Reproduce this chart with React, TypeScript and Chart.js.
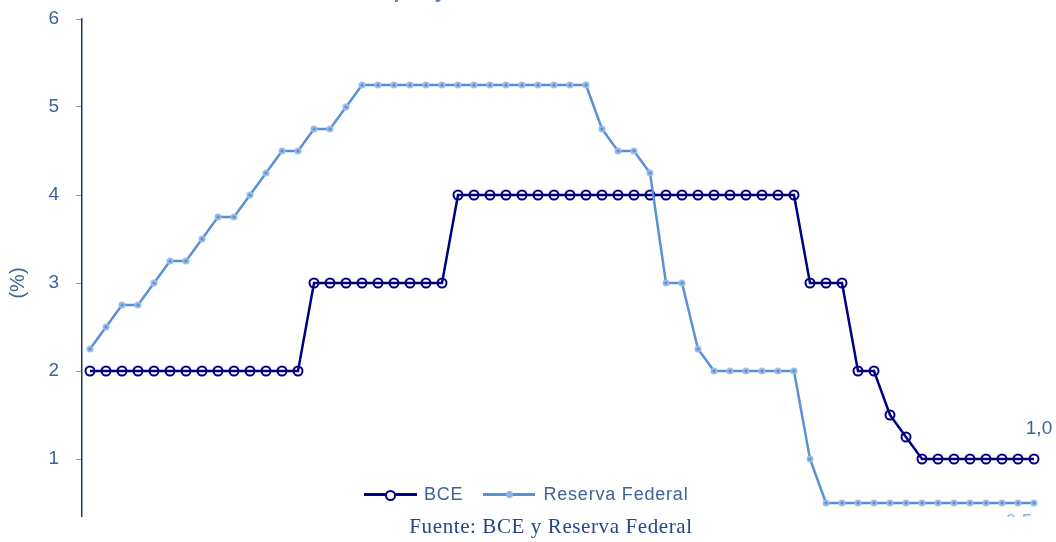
import React, { useEffect, useRef } from "react";
import { Chart, registerables } from "chart.js";

Chart.register(...registerables);

// Hidden period index (the x axis is cropped out of the reference)
const periods: string[] = Array.from({ length: 60 }, (_, i) => String(i + 1));

const bceRates: number[] = [
  2, 2, 2, 2, 2, 2, 2, 2, 2, 2, 2, 2, 2, 2,
  3, 3, 3, 3, 3, 3, 3, 3, 3,
  4, 4, 4, 4, 4, 4, 4, 4, 4, 4, 4, 4, 4, 4, 4, 4, 4, 4, 4, 4, 4, 4,
  3, 3, 3,
  2, 2,
  1.5, 1.25,
  1, 1, 1, 1, 1, 1, 1, 1,
];

const fedRates: number[] = [
  2.25, 2.5, 2.75, 2.75, 3.0, 3.25, 3.25, 3.5, 3.75, 3.75, 4.0, 4.25, 4.5, 4.5, 4.75, 4.75, 5.0,
  5.25, 5.25, 5.25, 5.25, 5.25, 5.25, 5.25, 5.25, 5.25, 5.25, 5.25, 5.25, 5.25, 5.25, 5.25,
  4.75, 4.5, 4.5, 4.25, 3.0, 3.0, 2.25,
  2.0, 2.0, 2.0, 2.0, 2.0, 2.0,
  1.0,
  0.5, 0.5, 0.5, 0.5, 0.5, 0.5, 0.5, 0.5, 0.5, 0.5, 0.5, 0.5, 0.5, 0.5,
];

const yTicks: number[] = [0, 1, 2, 3, 4, 5, 6];

const seriesNames = ["BCE", "Reserva Federal"];
const titleText = "Banco Central Europeo y Reserva Federal de los Estados Unidos";
const sourceText = "Fuente: BCE y Reserva Federal";

const NAVY = "#000080";
const FED = "#5A91D6";
const TEXT = "#3F6394";

const fmt = (v: number) => v.toFixed(1).replace(".", ",");

const endLabels = {
  id: "endLabels",
  afterDatasetsDraw(chart: any) {
    const ctx = chart.ctx;
    ctx.save();
    ctx.font = "19px 'Liberation Sans', Arial, sans-serif";
    ctx.textAlign = "center";
    ctx.textBaseline = "middle";
    const m0 = chart.getDatasetMeta(0);
    const p0 = m0.data[m0.data.length - 1];
    ctx.fillStyle = TEXT;
    ctx.fillText(fmt(bceRates[bceRates.length - 1]), p0.x + 5, p0.y - 30);
    const m1 = chart.getDatasetMeta(1);
    const p1 = m1.data[m1.data.length - 1];
    ctx.fillStyle = "#8DB4E2";
    ctx.fillText(fmt(fedRates[fedRates.length - 1]), p1.x - 15, p1.y + 19);
    ctx.restore();
  },
};

export default function App() {
  const ref = useRef<HTMLCanvasElement | null>(null);

  useEffect(() => {
    if (!ref.current) return;
    const chart = new Chart(ref.current, {
      type: "line",
      data: {
        labels: periods,
        datasets: [
          {
            label: seriesNames[0],
            data: bceRates,
            borderColor: NAVY,
            borderWidth: 2.5,
            pointRadius: 4.5,
            pointBorderWidth: 2,
            pointBorderColor: NAVY,
            pointBackgroundColor: "rgba(255,255,255,0)",
            tension: 0,
            order: 1,
          },
          {
            label: seriesNames[1],
            data: fedRates,
            borderColor: FED,
            borderWidth: 2.5,
            pointRadius: 2.5,
            pointBorderWidth: 2,
            pointBorderColor: "rgba(150,188,232,0.95)",
            pointBackgroundColor: "#5B8ED0",
            tension: 0,
            order: 0,
          },
        ],
      },
      options: {
        animation: false,
        responsive: false,
        maintainAspectRatio: false,
        layout: { padding: { left: 0, right: 14, top: 19, bottom: 13 } },
        plugins: {
          legend: { display: false },
          title: { display: false },
          tooltip: { enabled: false },
        },
        scales: {
          x: {
            type: "category",
            display: false,
            offset: true,
          },
          y: {
            min: 0,
            max: 6,
            afterFit: (s: any) => {
              s.width = 82;
              s.paddingTop = 0;
              s.paddingBottom = 0;
            },
            afterBuildTicks: (s: any) => {
              s.ticks = yTicks.map((v) => ({ value: v }));
            },
            ticks: {
              stepSize: 1,
              color: TEXT,
              padding: 17,
              font: { size: 19, family: "'Liberation Sans', Arial, sans-serif" },
            },
            grid: {
              drawOnChartArea: false,
              drawTicks: true,
              tickLength: 6,
              color: "#7F95B5",
            },
            border: { display: true, color: "#1F3864", width: 1.5 },
            title: {
              display: true,
              text: "(%)",
              color: TEXT,
              padding: { top: 6, bottom: 0 },
              font: { size: 20, family: "'Liberation Sans', Arial, sans-serif" },
            },
          },
        },
      },
      plugins: [endLabels],
    });
    return () => chart.destroy();
  }, []);

  const legendText: React.CSSProperties = {
    fontFamily: "'Liberation Sans', Arial, sans-serif",
    fontSize: 18,
    letterSpacing: "0.8px",
    color: TEXT,
    lineHeight: "20px",
  };

  return (
    <div
      style={{
        position: "fixed",
        left: 0,
        top: 0,
        width: 1056,
        height: 542,
        background: "#ffffff",
        overflow: "hidden",
      }}
    >
      <div
        style={{
          position: "absolute",
          left: 0,
          top: 0,
          width: 1056,
          height: 517,
          overflow: "hidden",
        }}
      >
        <canvas ref={ref} width={1056} height={560} style={{ width: 1056, height: 560, display: "block" }} />
      </div>
      <div
        style={{
          position: "absolute",
          left: 207,
          top: -21,
          fontFamily: "'Liberation Sans', Arial, sans-serif",
          fontWeight: "bold",
          fontSize: 20,
          lineHeight: "24px",
          color: "#5A82BE",
          whiteSpace: "nowrap",
        }}
      >
        {titleText}
      </div>
      <div style={{ position: "absolute", left: 364, top: 484, height: 20, display: "flex", alignItems: "center" }}>
        <div style={{ position: "relative", width: 53, height: 20 }}>
          <div style={{ position: "absolute", left: 0, top: 9, width: 53, height: 3, background: NAVY }} />
          <div
            style={{
              position: "absolute",
              left: 21,
              top: 5.5,
              width: 7,
              height: 7,
              borderRadius: "50%",
              border: `2px solid ${NAVY}`,
              background: "#ffffff",
            }}
          />
        </div>
        <div style={{ ...legendText, marginLeft: 7 }}>{seriesNames[0]}</div>
        <div style={{ position: "relative", width: 52, height: 20, marginLeft: 20 }}>
          <div style={{ position: "absolute", left: 0, top: 9, width: 52, height: 3, background: FED }} />
          <div
            style={{
              position: "absolute",
              left: 22.5,
              top: 7,
              width: 7,
              height: 7,
              borderRadius: "50%",
              background: "#8DB4E2",
            }}
          />
        </div>
        <div style={{ ...legendText, marginLeft: 8 }}>{seriesNames[1]}</div>
      </div>
      <div
        style={{
          position: "absolute",
          left: 351,
          top: 514,
          width: 400,
          textAlign: "center",
          fontFamily: "'Liberation Serif', 'Times New Roman', serif",
          fontSize: 21,
          letterSpacing: "0.6px",
          lineHeight: "24px",
          color: "#24468A",
          whiteSpace: "nowrap",
        }}
      >
        {sourceText}
      </div>
    </div>
  );
}
